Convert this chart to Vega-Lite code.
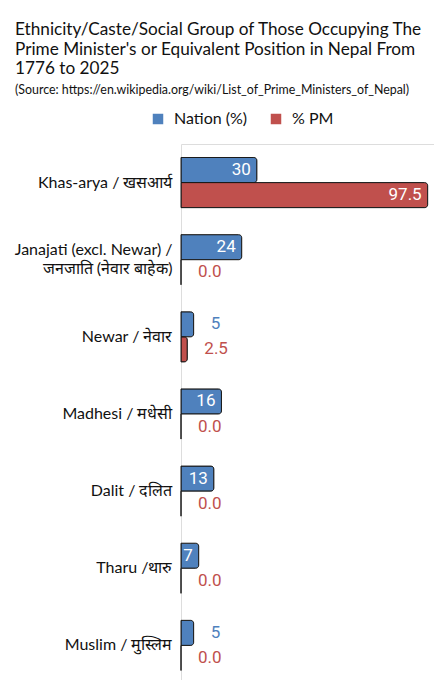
{
  "$schema": "https://vega.github.io/schema/vega-lite/v6.json",
  "width": 253,
  "height": 540,
  "autosize": {"type": "none"},
  "padding": {"left": 181, "top": 144, "right": 0, "bottom": 0},
  "background": "white",
  "title": {
    "text": ["Ethnicity/Caste/Social Group of Those Occupying The", "Prime Minister's or Equivalent Position in Nepal From", "1776 to 2025"],
    "subtitle": "(Source: https://en.wikipedia.org/wiki/List_of_Prime_Ministers_of_Nepal)",
    "anchor": "start",
    "frame": "group",
    "dx": -166,
    "offset": 15,
    "font": "Lato",
    "fontSize": 17.2,
    "fontWeight": "normal",
    "color": "#111",
    "lineHeight": 19.8,
    "subtitleFont": "Lato",
    "subtitleFontSize": 12.4,
    "subtitleColor": "#111",
    "subtitlePadding": 6
  },
  "data": {
    "values": [
      {"group": "Khas-arya / खसआर्य", "series": "Nation (%)", "value": 30},
      {"group": "Khas-arya / खसआर्य", "series": "% PM", "value": 97.5},
      {"group": "Janajati (excl. Newar) /\nजनजाति (नेवार बाहेक)", "series": "Nation (%)", "value": 24},
      {"group": "Janajati (excl. Newar) /\nजनजाति (नेवार बाहेक)", "series": "% PM", "value": 0},
      {"group": "Newar / नेवार", "series": "Nation (%)", "value": 5},
      {"group": "Newar / नेवार", "series": "% PM", "value": 2.5},
      {"group": "Madhesi / मधेसी", "series": "Nation (%)", "value": 16},
      {"group": "Madhesi / मधेसी", "series": "% PM", "value": 0},
      {"group": "Dalit / दलित", "series": "Nation (%)", "value": 13},
      {"group": "Dalit / दलित", "series": "% PM", "value": 0},
      {"group": "Tharu /थारु", "series": "Nation (%)", "value": 7},
      {"group": "Tharu /थारु", "series": "% PM", "value": 0},
      {"group": "Muslim / मुस्लिम", "series": "Nation (%)", "value": 5},
      {"group": "Muslim / मुस्लिम", "series": "% PM", "value": 0}
    ]
  },
  "encoding": {
    "y": {
      "field": "group",
      "type": "nominal",
      "sort": null,
      "title": null,
      "scale": {"paddingInner": 0.35, "paddingOuter": 0.175},
      "axis": {
        "domain": false,
        "ticks": false,
        "labelFont": "Lato",
        "labelFontSize": 16,
        "labelColor": "#111",
        "labelPadding": 9,
        "labelLimit": 0,
        "labelLineHeight": 19,
        "labelOffset": {"condition": {"test": "indexof(datum.value, 'Janajati') >= 0", "value": -10}, "value": 0},
        "labelExpr": "split(datum.label, '\\n')"
      }
    },
    "yOffset": {
      "field": "series",
      "type": "nominal",
      "sort": ["Nation (%)", "% PM"],
      "scale": {"paddingInner": 0, "paddingOuter": 0}
    },
    "x": {
      "field": "value",
      "type": "quantitative",
      "scale": {"domain": [0, 100]},
      "axis": null
    }
  },
  "layer": [
    {
      "mark": {"type": "bar", "stroke": "#1a1a1a", "strokeWidth": 1, "cornerRadiusEnd": 3},
      "encoding": {
        "color": {
          "field": "series",
          "type": "nominal",
          "scale": {"domain": ["Nation (%)", "% PM"], "range": ["#4F81BD", "#C0504D"]},
          "legend": {
            "orient": "none",
            "legendX": -31,
            "legendY": -33,
            "direction": "horizontal",
            "title": null,
            "symbolType": "square",
            "symbolSize": 110,
            "symbolStrokeWidth": 0,
            "labelFont": "Lato",
            "labelFontSize": 16,
            "labelColor": "#111",
            "labelOffset": 8,
            "columnPadding": 20
          }
        }
      }
    },
    {
      "transform": [{"filter": "datum.series === 'Nation (%)' && datum.value > 5"}],
      "mark": {"type": "text", "align": "right", "dx": -6, "color": "white", "font": "Roboto", "fontSize": 17},
      "encoding": {"text": {"field": "value", "type": "quantitative", "format": "d"}}
    },
    {
      "transform": [{"filter": "datum.series === 'Nation (%)' && datum.value <= 5"}],
      "mark": {"type": "text", "align": "left", "dx": 17, "color": "#4F81BD", "font": "Roboto", "fontSize": 17},
      "encoding": {"text": {"field": "value", "type": "quantitative", "format": "d"}}
    },
    {
      "transform": [{"filter": "datum.series === '% PM' && datum.value > 5"}],
      "mark": {"type": "text", "align": "right", "dx": -6, "color": "white", "font": "Roboto", "fontSize": 17},
      "encoding": {"text": {"field": "value", "type": "quantitative", "format": ".1f"}}
    },
    {
      "transform": [{"filter": "datum.series === '% PM' && datum.value <= 5"}],
      "mark": {"type": "text", "align": "left", "dx": 17, "color": "#C0504D", "font": "Roboto", "fontSize": 17},
      "encoding": {"text": {"field": "value", "type": "quantitative", "format": ".1f"}}
    }
  ]
}
